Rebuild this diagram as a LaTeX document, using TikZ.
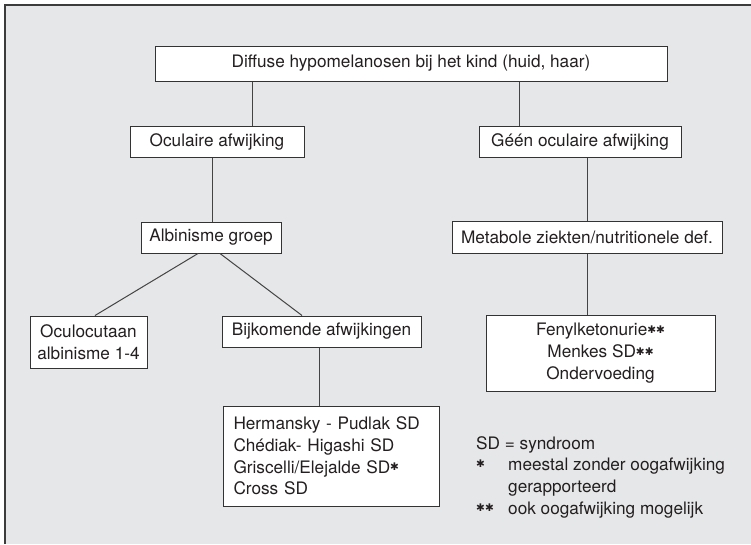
\documentclass[tikz,border=0pt]{standalone}
\usepackage{fontspec}
\setmainfont{TeX Gyre Heros}
\newfontfamily\symf{DejaVu Sans}
\newcommand\hast{{\symf\fontsize{10.5}{10.5}\selectfont\raisebox{2.2pt}{✱}}}
\definecolor{panelbg}{HTML}{E6E7E8}
\definecolor{panelline}{HTML}{3C3C3C}
\definecolor{boxc}{HTML}{333333}
\definecolor{linec}{HTML}{444444}
\definecolor{txtc}{HTML}{231F20}
\begin{document}
\begin{tikzpicture}[x=1pt,y=-1pt,
  fs/.style={font=\fontsize{17.2}{21.8}\selectfont, text=txtc},
  box/.style={draw=boxc, line width=1pt, fill=white, inner xsep=0pt, inner ysep=0pt, align=center, fs},
  conn/.style={draw=linec, line width=1pt},
  legend/.style={fs, inner sep=0pt, anchor=base west}]
\useasboundingbox (0,0) rectangle (751,544);
\fill[white] (0,0) rectangle (751,544);
\fill[panelbg] (5,5) rectangle (751,544);
\draw[panelline, line width=1.6pt] (5,544) -- (5,5) -- (751,5);

\node[box, minimum width=512pt, minimum height=35pt] (top) at (411,63.5) {Diffuse hypomelanosen bij het kind (huid, haar)};
\node[box, minimum width=174pt, minimum height=31pt] (ocu) at (217,141.5) {Oculaire afwijking};
\node[box, minimum width=202pt, minimum height=31pt] (geen) at (580,141.5) {Géén oculaire afwijking};
\node[box, minimum width=140pt, minimum height=31pt] (alb) at (211,237.5) {Albinisme groep};
\node[box, minimum width=270pt, minimum height=32pt] (meta) at (587,237) {Metabole ziekten/nutritionele def.};
\node[box, minimum width=117pt, minimum height=52pt] (oculo) at (88.5,342) {Oculocutaan\\albinisme 1-4};
\node[box, minimum width=199pt, minimum height=31pt] (bijk) at (321.5,331.5) {Bijkomende afwijkingen};
\node[box, minimum width=229pt, minimum height=76pt] (fenyl) at (600.5,353) {Fenylketonurie\hast\hast\\Menkes SD\hast\hast\\Ondervoeding};
\node[box, align=left, text width=195pt, inner xsep=10.5pt, minimum height=100pt] (herm) at (331,456) {Hermansky - Pudlak SD\\Chédiak- Higashi SD\\Griscelli/Elejalde SD\hast\\Cross SD};

\draw[conn] (top.south -| 252,0) -- (ocu.north -| 252,0);
\draw[conn] (top.south -| 519,0) -- (geen.north -| 519,0);
\draw[conn] (ocu.south -| 212,0) -- (alb.north -| 212,0);
\draw[conn] (geen.south -| 587,0) -- (meta.north -| 587,0);
\draw[conn] (alb.south -| 198,0) -- (oculo.north -| 95,0);
\draw[conn] (alb.south -| 220,0) -- (bijk.north -| 302,0);
\draw[conn] (bijk.south -| 319,0) -- (herm.north -| 319,0);
\draw[conn] (meta.south -| 587,0) -- (fenyl.north -| 587,0);

\node[legend] (l1) at (476,449) {SD = syndroom};
\node[legend] (l2a) at (476,470) {\hast};
\node[legend] (l2b) at (508,470) {meestal zonder oogafwijking};
\node[legend] (l3) at (508,492) {gerapporteerd};
\node[legend] (l4a) at (476,514) {\hast\hast};
\node[legend] (l4b) at (508,514) {ook oogafwijking mogelijk};
\end{tikzpicture}
\end{document}
